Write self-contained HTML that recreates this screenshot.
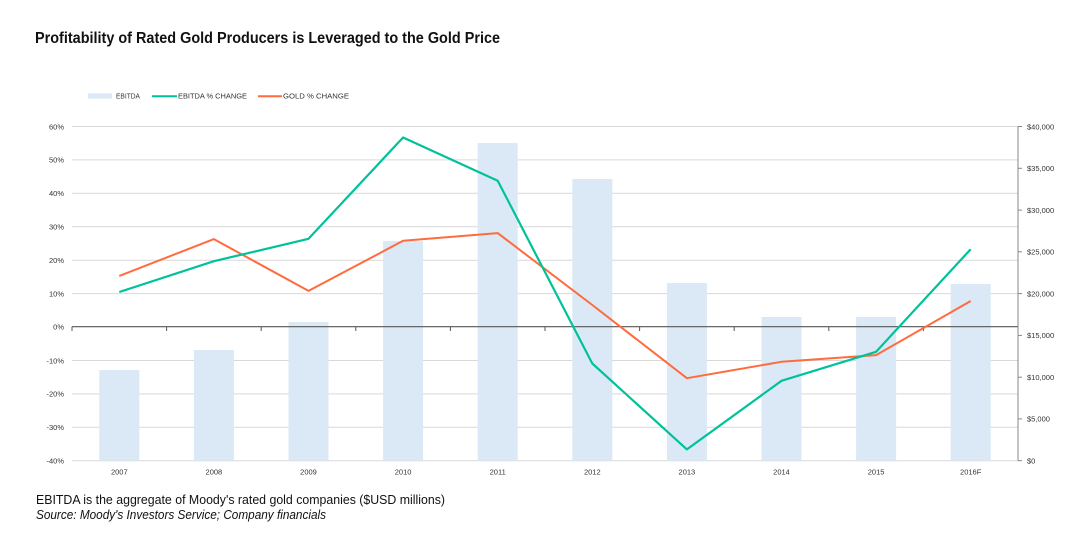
<!DOCTYPE html>
<html><head><meta charset="utf-8"><style>
html,body{margin:0;padding:0;background:#fff;}
svg{display:block;}
text{font-family:"Liberation Sans",sans-serif;}
</style></head><body>
<svg width="1078" height="542" viewBox="0 0 1078 542" xmlns="http://www.w3.org/2000/svg">
<rect width="1078" height="542" fill="#fff"/>
<text x="35" y="43" font-size="15.5" font-weight="bold" fill="#111" textLength="465" lengthAdjust="spacingAndGlyphs">Profitability of Rated Gold Producers is Leveraged to the Gold Price</text>

<!-- legend -->
<rect x="88" y="93.3" width="24" height="5.4" fill="#dbe9f6"/>
<text x="116" y="98.6" font-size="7" fill="#333" textLength="24" lengthAdjust="spacingAndGlyphs">EBITDA</text>
<line x1="152" y1="96.2" x2="177" y2="96.2" stroke="#00c29a" stroke-width="2"/>
<text x="178" y="98.6" font-size="7" fill="#333" textLength="69" lengthAdjust="spacingAndGlyphs">EBITDA % CHANGE</text>
<line x1="258" y1="96.2" x2="282" y2="96.2" stroke="#ff6b3d" stroke-width="2"/>
<text x="283" y="98.6" font-size="7" fill="#333" textLength="66" lengthAdjust="spacingAndGlyphs">GOLD % CHANGE</text>

<!-- gridlines -->
<g stroke="#d9d9d9" stroke-width="1">
<line x1="72" y1="126.5" x2="1018" y2="126.5"/>
<line x1="72" y1="159.9" x2="1018" y2="159.9"/>
<line x1="72" y1="193.3" x2="1018" y2="193.3"/>
<line x1="72" y1="226.8" x2="1018" y2="226.8"/>
<line x1="72" y1="260.2" x2="1018" y2="260.2"/>
<line x1="72" y1="293.6" x2="1018" y2="293.6"/>
<line x1="72" y1="360.5" x2="1018" y2="360.5"/>
<line x1="72" y1="393.9" x2="1018" y2="393.9"/>
<line x1="72" y1="427.3" x2="1018" y2="427.3"/>
<line x1="72" y1="460.7" x2="1018" y2="460.7"/>
</g>

<!-- bars -->
<g fill="#dbe9f6">
<rect x="99.3" y="370" width="40" height="90.7"/>
<rect x="193.9" y="350" width="40" height="110.7"/>
<rect x="288.5" y="322" width="40" height="138.7"/>
<rect x="383.1" y="241" width="40" height="219.7"/>
<rect x="477.7" y="143" width="40" height="317.7"/>
<rect x="572.3" y="179" width="40" height="281.7"/>
<rect x="666.9" y="283" width="40" height="177.7"/>
<rect x="761.5" y="317" width="40" height="143.7"/>
<rect x="856.1" y="317" width="40" height="143.7"/>
<rect x="950.7" y="284" width="40" height="176.7"/>
</g>

<!-- zero line and ticks -->
<line x1="72" y1="326.7" x2="1018" y2="326.7" stroke="#555" stroke-width="1.2"/>
<g stroke="#555" stroke-width="1">
<line x1="72" y1="326.7" x2="72" y2="331"/>
<line x1="166.6" y1="326.7" x2="166.6" y2="331"/>
<line x1="261.2" y1="326.7" x2="261.2" y2="331"/>
<line x1="355.8" y1="326.7" x2="355.8" y2="331"/>
<line x1="450.4" y1="326.7" x2="450.4" y2="331"/>
<line x1="545" y1="326.7" x2="545" y2="331"/>
<line x1="639.6" y1="326.7" x2="639.6" y2="331"/>
<line x1="734.2" y1="326.7" x2="734.2" y2="331"/>
<line x1="828.8" y1="326.7" x2="828.8" y2="331"/>
<line x1="923.4" y1="326.7" x2="923.4" y2="331"/>
</g>

<!-- right axis -->
<g stroke="#888" stroke-width="1">
<line x1="1018" y1="126.5" x2="1018" y2="460.7"/>
<line x1="1018" y1="126.5" x2="1022" y2="126.5"/>
<line x1="1018" y1="168.3" x2="1022" y2="168.3"/>
<line x1="1018" y1="210.1" x2="1022" y2="210.1"/>
<line x1="1018" y1="251.8" x2="1022" y2="251.8"/>
<line x1="1018" y1="293.6" x2="1022" y2="293.6"/>
<line x1="1018" y1="335.4" x2="1022" y2="335.4"/>
<line x1="1018" y1="377.2" x2="1022" y2="377.2"/>
<line x1="1018" y1="418.9" x2="1022" y2="418.9"/>
<line x1="1018" y1="460.7" x2="1022" y2="460.7"/>
</g>

<!-- lines -->
<polyline fill="none" stroke="#ff6b3d" stroke-width="2" stroke-linejoin="round" points="119.3,275.9 213.9,239.1 308.5,290.9 403.1,240.8 497.7,233.1 592.3,305 686.9,378.2 781.5,361.8 876.1,355.1 970.7,301"/>
<polyline fill="none" stroke="#00c29a" stroke-width="2.2" stroke-linejoin="round" points="119.3,292 213.9,261.2 308.5,238.8 403.1,137.5 497.7,180.7 592.3,363.5 686.9,449.4 781.5,380.8 876.1,351.8 970.7,249.2"/>

<!-- left labels -->
<g font-size="7.5" fill="#333" text-anchor="end">
<text x="64" y="129.3">60%</text>
<text x="64" y="162.7">50%</text>
<text x="64" y="196.1">40%</text>
<text x="64" y="229.6">30%</text>
<text x="64" y="263">20%</text>
<text x="64" y="296.4">10%</text>
<text x="64" y="329.5">0%</text>
<text x="64" y="363.3">-10%</text>
<text x="64" y="396.7">-20%</text>
<text x="64" y="430.1">-30%</text>
<text x="64" y="463.5">-40%</text>
</g>

<!-- right labels -->
<g font-size="7.5" fill="#333">
<text x="1027" y="129.3">$40,000</text>
<text x="1027" y="171.1">$35,000</text>
<text x="1027" y="212.9">$30,000</text>
<text x="1027" y="254.6">$25,000</text>
<text x="1027" y="296.4">$20,000</text>
<text x="1027" y="338.2">$15,000</text>
<text x="1027" y="380">$10,000</text>
<text x="1027" y="421.7">$5,000</text>
<text x="1027" y="463.5">$0</text>
</g>

<!-- x labels -->
<g font-size="7.5" fill="#333" text-anchor="middle">
<text x="119.3" y="474.5">2007</text>
<text x="213.9" y="474.5">2008</text>
<text x="308.5" y="474.5">2009</text>
<text x="403.1" y="474.5">2010</text>
<text x="497.7" y="474.5">2011</text>
<text x="592.3" y="474.5">2012</text>
<text x="686.9" y="474.5">2013</text>
<text x="781.5" y="474.5">2014</text>
<text x="876.1" y="474.5">2015</text>
<text x="970.7" y="474.5">2016F</text>
</g>

<!-- footer -->
<text x="36" y="504" font-size="13" fill="#111" textLength="409" lengthAdjust="spacingAndGlyphs">EBITDA is the aggregate of Moody's rated gold companies ($USD millions)</text>
<text x="36" y="519" font-size="13" font-style="italic" fill="#111" textLength="290" lengthAdjust="spacingAndGlyphs">Source: Moody's Investors Service; Company financials</text>
</svg>
</body></html>
